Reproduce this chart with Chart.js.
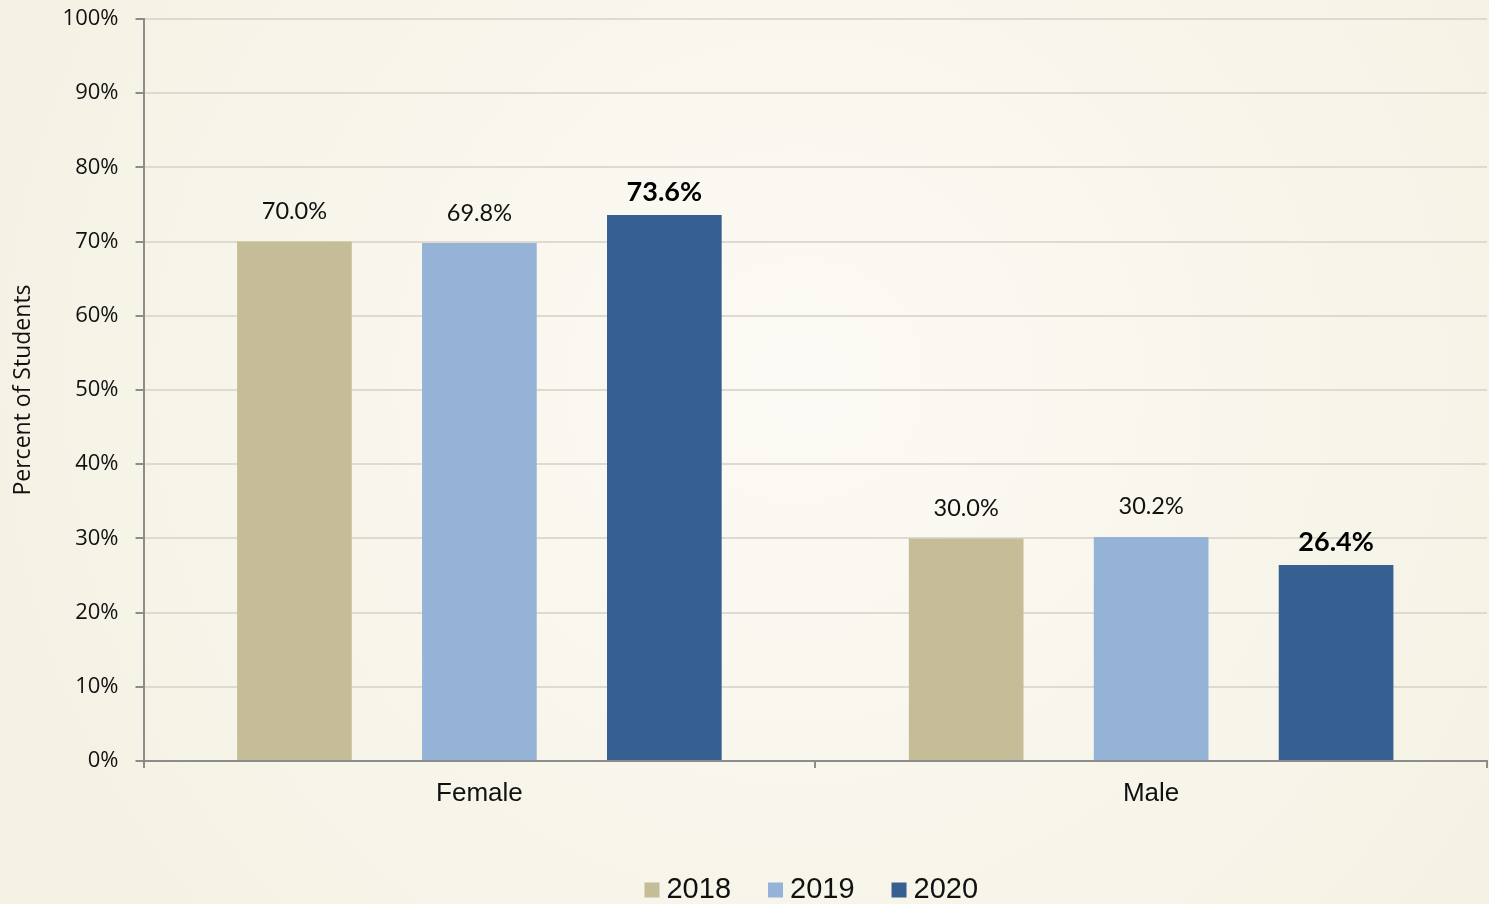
<!DOCTYPE html>
<html>
<head>
<meta charset="utf-8">
<script src="https://cdn.jsdelivr.net/npm/chart.js@4"></script>
<style>
  html, body { margin: 0; padding: 0; background: #F5F2E6; }
  #wrap { width: 1489px; height: 904px; }
</style>
</head>
<body>
<div id="wrap"><canvas id="chart" width="1489" height="904"></canvas></div>
<script>
const categories = ["Female", "Male"];
const years = ["2018", "2019", "2020"];
const values2018 = [70.0, 30.0];
const values2019 = [69.8, 30.2];
const values2020 = [73.6, 26.4];
const yTicks = [0, 10, 20, 30, 40, 50, 60, 70, 80, 90, 100];

const colors = ["#C4BD97", "#95B3D7", "#366092"];
const boldLabels = [false, false, true];

// soft radial background like the original
const bgPlugin = {
  id: "bg",
  beforeDraw(chart) {
    const { ctx, width, height } = chart;
    const g = ctx.createRadialGradient(800, 380, 20, 800, 380, 900);
    g.addColorStop(0, "#FCFAF4");
    g.addColorStop(1, "#F4F1E3");
    ctx.save();
    ctx.fillStyle = g;
    ctx.fillRect(0, 0, width, height);
    ctx.restore();
  },
};

// value labels above each bar
const labelPlugin = {
  id: "valueLabels",
  afterDatasetsDraw(chart) {
    const { ctx } = chart;
    ctx.save();
    ctx.textAlign = "center";
    ctx.textBaseline = "middle";
    chart.data.datasets.forEach((ds, i) => {
      const meta = chart.getDatasetMeta(i);
      const bold = boldLabels[i];
      ctx.font = bold ? "bold 27px Lato, 'Open Sans', sans-serif" : "23.5px Lato, 'Open Sans', sans-serif";
      ctx.fillStyle = bold ? "#000" : "#111";
      meta.data.forEach((bar, j) => {
        ctx.fillText(ds.data[j].toFixed(1) + "%", bar.x, bar.y - (bold ? 23 : 30));
      });
    });
    ctx.restore();
  },
};

// legend drawn by hand so it can sit right at the bottom edge
const legendPlugin = {
  id: "bottomLegend",
  afterDraw(chart) {
    const { ctx, chartArea } = chart;
    const box = 15, gap = 7, spacing = 37, y = 890;
    ctx.save();
    ctx.font = "29px 'Liberation Sans', Arial, sans-serif";
    ctx.textBaseline = "middle";
    const items = chart.data.datasets.map((ds) => ({
      text: ds.label,
      color: ds.backgroundColor,
      w: box + gap + ctx.measureText(ds.label).width,
    }));
    const total = items.reduce((s, it) => s + it.w, 0) + spacing * (items.length - 1);
    let x = (chartArea.left + chartArea.right) / 2 - total / 2 - 4;
    items.forEach((it) => {
      ctx.fillStyle = it.color;
      ctx.fillRect(x, y - box / 2, box, box);
      ctx.fillStyle = "#111";
      ctx.fillText(it.text, x + box + gap, y);
      x += it.w + spacing;
    });
    ctx.restore();
  },
};

new Chart(document.getElementById("chart"), {
  type: "bar",
  data: {
    labels: categories,
    datasets: [values2018, values2019, values2020].map((d, i) => ({
      label: years[i],
      data: d,
      backgroundColor: colors[i],
      borderWidth: 0,
      categoryPercentage: 0.826,
      barPercentage: 0.62,
    })),
  },
  options: {
    responsive: false,
    animation: false,
    layout: { padding: { top: 19, right: 2, left: 6, bottom: 0 } },
    plugins: {
      legend: { display: false },
      tooltip: { enabled: false },
    },
    scales: {
      x: {
        grid: {
          display: true,
          drawOnChartArea: false,
          color: "#8C8C8C",
          tickLength: 7,
          lineWidth: 2,
        },
        border: { color: "#8C8C8C", width: 2 },
        ticks: {
          color: "#111",
          font: { family: "'Liberation Sans', Arial, sans-serif", size: 26 },
          padding: 10,
        },
        afterFit(scale) {
          scale.height = 143;
        },
      },
      y: {
        min: 0,
        max: 100,
        afterBuildTicks(scale) {
          scale.ticks = yTicks.map((v) => ({ value: v }));
        },
        afterFit(scale) {
          scale.paddingTop = 0;
          scale.paddingBottom = 0;
        },
        grid: {
          color: "#DEDAD0",
          lineWidth: 2,
          tickLength: 8,
          tickColor: "#8C8C8C",
        },
        border: { color: "#8C8C8C", width: 2 },
        ticks: {
          color: "#111",
          font: { family: "'Open Sans', sans-serif", size: 22 },
          padding: 17,
          callback: (v) => v + "%",
        },
        title: {
          display: true,
          text: "Percent of Students",
          color: "#111",
          font: { family: "'Open Sans', sans-serif", size: 23 },
          padding: { top: 4, bottom: 8 },
        },
      },
    },
  },
  plugins: [bgPlugin, labelPlugin, legendPlugin],
});
</script>
</body>
</html>
